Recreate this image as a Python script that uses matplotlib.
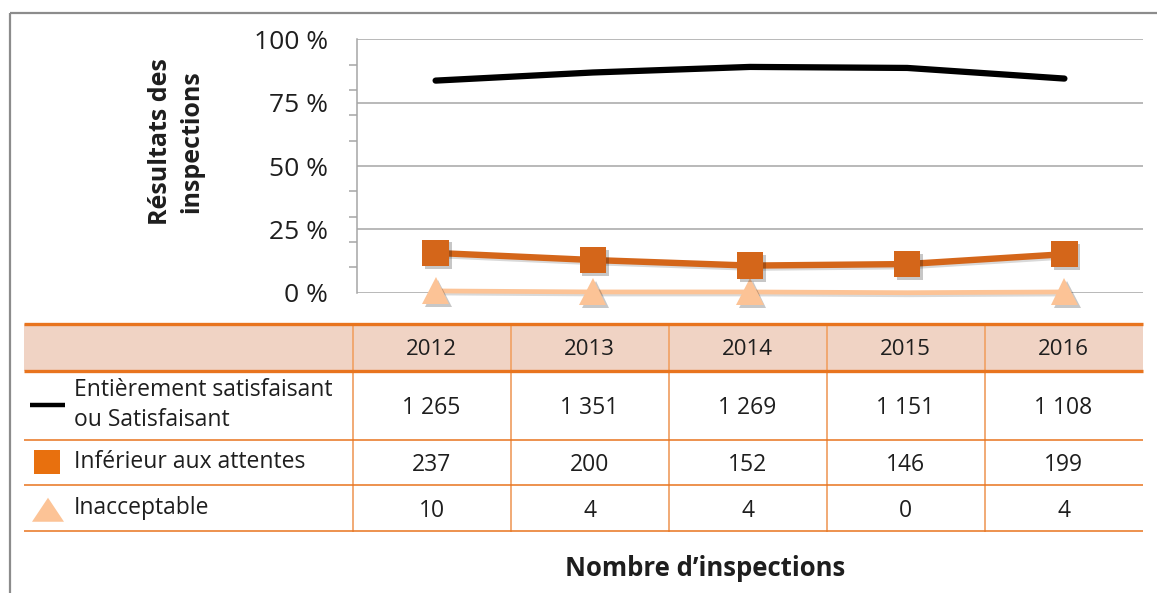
import matplotlib
matplotlib.use("Agg")
import matplotlib.pyplot as plt
import matplotlib.patheffects as pe
from matplotlib.patches import Rectangle, Polygon
from matplotlib.ticker import FixedLocator, MultipleLocator

plt.rcParams['font.family'] = ['Open Sans', 'DejaVu Sans']

# ---- data ----
years = ["2012", "2013", "2014", "2015", "2016"]
series_labels = ["Entièrement satisfaisant\nou Satisfaisant", "Inférieur aux attentes", "Inacceptable"]
sat_counts = [1265, 1351, 1269, 1151, 1108]
inf_counts = [237, 200, 152, 146, 199]
ina_counts = [10, 4, 4, 0, 4]
sat_pct = [83.7, 86.9, 89.1, 88.7, 84.5]
inf_pct = [15.7, 12.9, 10.7, 11.3, 15.2]
ina_pct = [0.7, 0.3, 0.3, 0.0, 0.3]
y_ticks = [0, 25, 50, 75, 100]
y_label = "Résultats des\ninspections"
x_label = "Nombre d’inspections"

W, H = 1157, 593
DPI = 100
fig = plt.figure(figsize=(W / DPI, H / DPI), dpi=DPI)
fig.patch.set_facecolor("white")

TXT = "#1e1e1e"
ORANGE = "#D4661A"
LIGHT = "#FCC396"
TBL_LINE = "#E8741E"
TBL_VLINE = "#F0A46A"
HEAD_FILL = "#F0D3C4"
GRID = "#A6A6A6"

# overlay axes in pixel coordinates (frame + table)
ov = fig.add_axes([0, 0, 1, 1])
ov.set_xlim(0, W)
ov.set_ylim(H, 0)
ov.axis("off")

# outer frame
ov.plot([10, W], [13, 13], color="#8C8C8C", lw=1.6, solid_capstyle="butt")
ov.plot([10, 10], [13, H], color="#8C8C8C", lw=1.6, solid_capstyle="butt")

# table geometry
t_left = 24
col_edges = [352.7, 510.5, 668.5, 826.5, 984.5, 1142.5]
t_top, head_bot = 323.5, 370.5
row_bots = [439.5, 484.5, 531]

ov.add_patch(Rectangle((t_left, t_top), col_edges[-1] - t_left, head_bot - t_top,
                       facecolor=HEAD_FILL, edgecolor="none"))
for xe in col_edges[:-1]:
    ov.plot([xe, xe], [t_top, row_bots[-1]], color=TBL_VLINE, lw=1.3)
ov.plot([t_left, col_edges[-1]], [t_top, t_top], color=TBL_LINE, lw=2.4, solid_capstyle="butt")
ov.plot([t_left, col_edges[-1]], [head_bot, head_bot], color=TBL_LINE, lw=2.4, solid_capstyle="butt")
for yb in row_bots:
    ov.plot([t_left, col_edges[-1]], [yb, yb], color=TBL_LINE, lw=1.1, solid_capstyle="butt")

centers = [(col_edges[i] + col_edges[i + 1]) / 2 for i in range(len(years))]
head_mid = (t_top + head_bot) / 2
for cx, yr in zip(centers, years):
    ov.text(cx, head_mid, yr, ha="center", va="center_baseline", fontsize=16, color=TXT)

row_tops = [head_bot] + row_bots[:-1]
row_mids = [(a + b) / 2 for a, b in zip(row_tops, row_bots)]
all_counts = [sat_counts, inf_counts, ina_counts]
for rm, counts in zip(row_mids, all_counts):
    for cx, v in zip(centers, counts):
        ov.text(cx, rm, f"{v:,}".replace(",", " "), ha="center", va="center_baseline",
                fontsize=16.5, color=TXT)
for rm, lab in zip(row_mids, series_labels):
    ov.text(74, rm, lab, ha="left", va="center", fontsize=16.5, color=TXT, linespacing=1.3)

# legend keys inside table
ov.plot([30, 65], [row_mids[0], row_mids[0]], color="black", lw=3.2, solid_capstyle="butt")
ov.add_patch(Rectangle((34, row_mids[1] - 12), 26, 24, facecolor="#E8700E", edgecolor="none"))
ov.add_patch(Polygon([[32, row_mids[2] + 14], [64, row_mids[2] + 14], [48, row_mids[2] - 10]],
                     closed=True, facecolor=LIGHT, edgecolor="none"))

# ---- main chart ----
left_px, right_px, top_px, bot_px = 357, 1143, 39.3, 292.7
ax = fig.add_axes([left_px / W, 1 - bot_px / H, (right_px - left_px) / W, (bot_px - top_px) / H])
ax.patch.set_alpha(0)
x = list(range(len(years)))
ax.set_xlim(-0.5, len(years) - 0.5)
ax.set_ylim(0, 100)

ax.yaxis.set_major_locator(FixedLocator(y_ticks))
ax.yaxis.set_minor_locator(MultipleLocator(10))
ax.set_yticklabels([f"{t} %" for t in y_ticks])
ax.tick_params(axis="y", which="major", length=0, labelsize=19, labelcolor=TXT, pad=21)
ax.tick_params(axis="y", which="minor", length=5.8, width=1.1, color=GRID, direction="out")
ax.set_xticks([])
ax.grid(axis="y", which="major", color=GRID, lw=1.1)
ax.set_axisbelow(True)
for s in ["top", "right", "bottom"]:
    ax.spines[s].set_visible(False)
ax.spines["left"].set_color(GRID)
ax.spines["left"].set_linewidth(1.1)

line_shadow = [pe.SimpleLineShadow(offset=(1.5, -1.5), shadow_color="black", alpha=0.15), pe.Normal()]
patch_shadow = [pe.SimplePatchShadow(offset=(2, -2), shadow_rgbFace="black", alpha=0.22), pe.Normal()]

ax.plot(x, sat_pct, color="black", lw=4.5, solid_capstyle="round", solid_joinstyle="round",
        zorder=4, clip_on=False)
ax.plot(x, ina_pct, color=LIGHT, lw=3.4, zorder=3, clip_on=False, path_effects=line_shadow)
ina_idx = [i for i, c in enumerate(ina_counts) if c > 0]
ax.plot([x[i] for i in ina_idx], [ina_pct[i] for i in ina_idx], ls="none", marker="^",
        ms=19.5, mew=0, color=LIGHT, zorder=3.5, clip_on=False, path_effects=patch_shadow)
ax.plot(x, inf_pct, color=ORANGE, lw=4.6, zorder=5, clip_on=False, path_effects=line_shadow)
ax.plot(x, inf_pct, ls="none", marker="s", ms=19, mew=0, color=ORANGE, zorder=5.5,
        clip_on=False, path_effects=patch_shadow)

# axis titles
fig.text(176 / W, 1 - 142 / H, y_label, rotation=90, ha="center", va="center",
         fontsize=18, fontweight="bold", color=TXT, linespacing=1.3)
fig.text(705 / W, 1 - 569 / H, x_label, ha="center", va="center",
         fontsize=18.5, fontweight="bold", color=TXT)

fig.savefig("out.png", dpi=DPI, facecolor="white")
